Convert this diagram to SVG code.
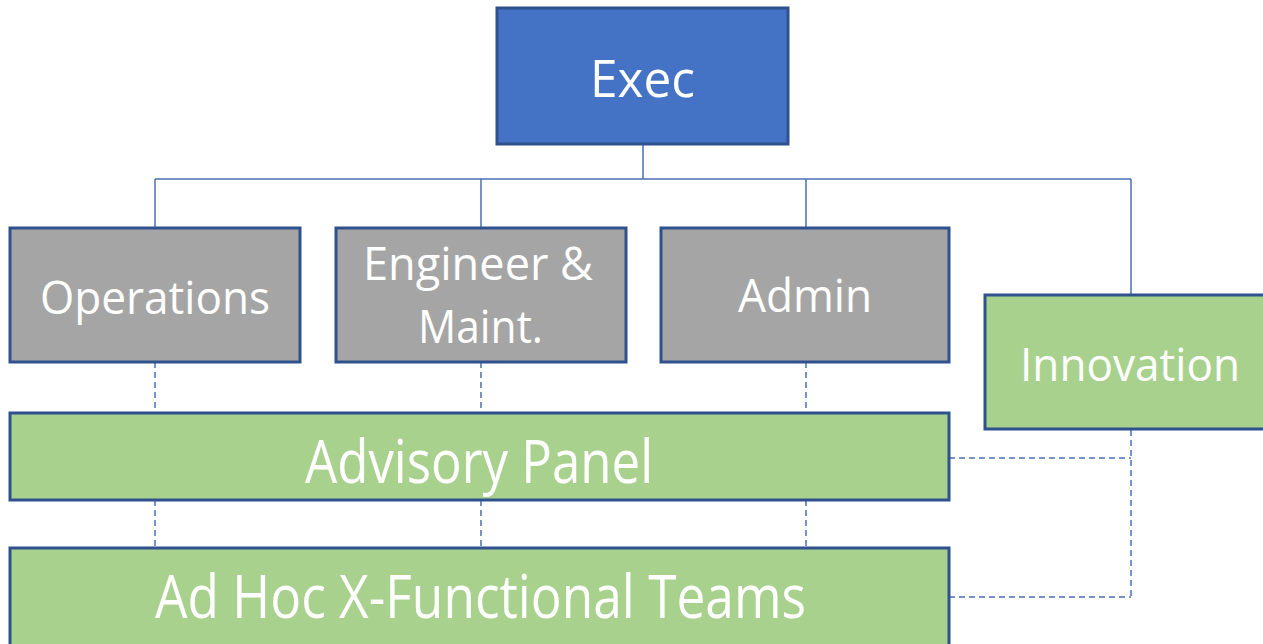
<svg xmlns="http://www.w3.org/2000/svg" width="1263" height="644" viewBox="0 0 1263 644">
  <style>
    .box { stroke: #2F528F; stroke-width: 3; }
    .exec { fill: #4472C4; }
    .dept { fill: #A5A5A5; }
    .green { fill: #A9D18E; }
    .lbl { fill: #FFFFFF; font-family: "Open Sans", "Noto Sans", "Liberation Sans", sans-serif; }
    .solid { fill: none; stroke: #4A70B5; stroke-width: 1.5; }
    .dash { fill: none; stroke: #4A70B5; stroke-width: 1.5; stroke-dasharray: 6 4; }
  </style>

  <g id="connectors">
    <path class="solid" d="M643 144 V179 M155 179 H1131 M155 179 V227 M481 179 V227 M806 179 V227 M1131 179 V294"/>
    <path class="dash" d="M155 362 V412 M481 362 V412 M806 362 V412 M155 500 V547 M481 500 V547 M806 500 V547"/>
    <path class="dash" d="M1131 430 V597 M949 458 H1131 M949 597 H1131"/>
  </g>

  <g id="exec">
    <rect class="box exec" x="497" y="8" width="291" height="136"/>
    <text class="lbl" x="590" y="97" font-size="52" textLength="105" lengthAdjust="spacingAndGlyphs">Exec</text>
  </g>

  <g id="operations">
    <rect class="box dept" x="10" y="228" width="290" height="134"/>
    <text class="lbl" x="40" y="314" font-size="46" textLength="230" lengthAdjust="spacingAndGlyphs">Operations</text>
  </g>

  <g id="engineer-maint">
    <rect class="box dept" x="336" y="228" width="290" height="134"/>
    <text class="lbl" x="363" y="280" font-size="45" textLength="230" lengthAdjust="spacingAndGlyphs">Engineer &amp;</text>
    <text class="lbl" x="418" y="343" font-size="45" textLength="125" lengthAdjust="spacingAndGlyphs">Maint.</text>
  </g>

  <g id="admin">
    <rect class="box dept" x="661" y="228" width="288" height="134"/>
    <text class="lbl" x="738" y="312" font-size="46" textLength="134" lengthAdjust="spacingAndGlyphs">Admin</text>
  </g>

  <g id="innovation">
    <rect class="box green" x="985" y="295" width="290" height="134"/>
    <text class="lbl" x="1020" y="381" font-size="46" textLength="220" lengthAdjust="spacingAndGlyphs">Innovation</text>
  </g>

  <g id="advisory-panel">
    <rect class="box green" x="10" y="413" width="939" height="87"/>
    <text class="lbl" x="305" y="483" font-size="60" textLength="348" lengthAdjust="spacingAndGlyphs">Advisory Panel</text>
  </g>

  <g id="ad-hoc-teams">
    <rect class="box green" x="10" y="548" width="939" height="110"/>
    <text class="lbl" x="155" y="618" font-size="60" textLength="651" lengthAdjust="spacingAndGlyphs">Ad Hoc X-Functional Teams</text>
  </g>
</svg>
